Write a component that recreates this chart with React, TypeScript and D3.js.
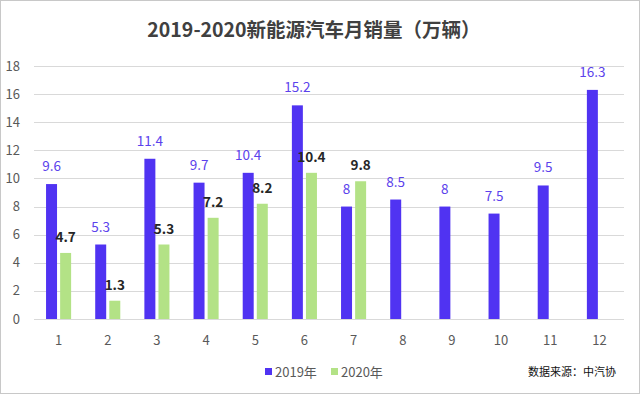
import { useRef, useEffect } from 'react';
import * as d3 from 'd3';

const W = 640;
const H = 394;
const MARGIN = { top: 66, right: 16, bottom: 75, left: 34 };

const months = ['1', '2', '3', '4', '5', '6', '7', '8', '9', '10', '11', '12'];
const series = ['2019年', '2020年'];
const sales2019 = [9.6, 5.3, 11.4, 9.7, 10.4, 15.2, 8, 8.5, 8, 7.5, 9.5, 16.3];
const sales2020 = [4.7, 1.3, 5.3, 7.2, 8.2, 10.4, 9.8];
const yTicks = [0, 2, 4, 6, 8, 10, 12, 14, 16, 18];

const COLORS = ['#5033f2', '#b3e286'];
const LABEL_COLORS = ['#5b42ec', '#262626'];
const FONT = '"Noto Sans CJK SC", "Noto Sans", sans-serif';

export default function App() {
  const svgRef = useRef<SVGSVGElement>(null);

  useEffect(() => {
    const svg = d3.select(svgRef.current);
    svg.selectAll('*').remove();

    const w = W - MARGIN.left - MARGIN.right;
    const h = H - MARGIN.top - MARGIN.bottom;

    svg.append('rect').attr('width', W).attr('height', H).attr('fill', '#fff');
    svg.append('rect').attr('x', 0.5).attr('y', 0.5).attr('width', W - 1).attr('height', H - 1)
      .attr('fill', 'none').attr('stroke', '#c8c8c8');

    // Title
    svg.append('text').attr('x', 314).attr('y', 37)
      .attr('text-anchor', 'middle').attr('font-family', FONT)
      .attr('font-size', '19.5px').attr('font-weight', 'bold').attr('fill', '#404040')
      .text('2019-2020新能源汽车月销量（万辆）');

    const g = svg.append('g').attr('transform', `translate(${MARGIN.left},${MARGIN.top})`);

    const x0 = d3.scaleBand().domain(months).range([0, w]).paddingInner(0.49).paddingOuter(0.245);
    const x1 = d3.scaleBand().domain(series).range([0, x0.bandwidth()]).paddingInner(0.22);
    const y = d3.scaleLinear().domain([0, 18]).range([h, 0]);

    // Gridlines
    g.selectAll('line.grid').data(yTicks).enter()
      .append('line')
      .attr('x1', 0).attr('x2', w)
      .attr('y1', d => Math.round(y(d)) + 0.5).attr('y2', d => Math.round(y(d)) + 0.5)
      .attr('stroke', '#d9d9d9').attr('stroke-width', 1);

    // Y tick labels
    g.selectAll('text.ytick').data(yTicks).enter()
      .append('text')
      .attr('x', -14).attr('y', d => y(d) + 4.5)
      .attr('text-anchor', 'end').attr('font-family', FONT)
      .attr('font-size', '13px').attr('fill', '#595959')
      .text(d => d);

    // X tick labels
    g.selectAll('text.xtick').data(months).enter()
      .append('text')
      .attr('x', d => (x0(d) as number) + x0.bandwidth() / 2)
      .attr('y', h + 26)
      .attr('text-anchor', 'middle').attr('font-family', FONT)
      .attr('font-size', '13px').attr('fill', '#595959')
      .text(d => d);

    const rows = [sales2019, sales2020];
    rows.forEach((vals, si) => {
      const data = vals.map((v, i) => ({ m: months[i], v }));
      const bx = (d: { m: string }) => (x0(d.m) as number) + (x1(series[si]) as number);

      g.selectAll(`rect.s${si}`).data(data).enter()
        .append('rect')
        .attr('x', bx)
        .attr('y', d => y(d.v))
        .attr('width', x1.bandwidth())
        .attr('height', d => h - y(d.v))
        .attr('fill', COLORS[si]);

      g.selectAll(`text.l${si}`).data(data).enter()
        .append('text')
        .attr('x', d => bx(d) + x1.bandwidth() / 2)
        .attr('y', d => y(d.v) - (si === 0 ? 13 : 11))
        .attr('text-anchor', 'middle').attr('font-family', FONT)
        .attr('font-size', '13.5px')
        .attr('font-weight', si === 0 ? 'normal' : 'bold')
        .attr('fill', LABEL_COLORS[si])
        .text(d => d.v);
    });

    // Legend
    const legend = svg.append('g').attr('transform', 'translate(265,372)');
    const lx = [0, 66];
    series.forEach((s, i) => {
      legend.append('rect').attr('x', lx[i]).attr('y', -4).attr('width', 7).attr('height', 7)
        .attr('fill', COLORS[i]);
      legend.append('text').attr('x', lx[i] + 10).attr('y', 4.5)
        .attr('font-family', FONT).attr('font-size', '13px').attr('fill', '#595959')
        .text(s);
    });

    // Source
    svg.append('text').attr('x', 528).attr('y', 376)
      .attr('font-family', FONT).attr('font-size', '11px').attr('fill', '#111')
      .text('数据来源：中汽协');
  }, []);

  return (
    <svg ref={svgRef} width={W} height={H}
      style={{ position: 'absolute', left: 0, top: 0, display: 'block' }} />
  );
}
